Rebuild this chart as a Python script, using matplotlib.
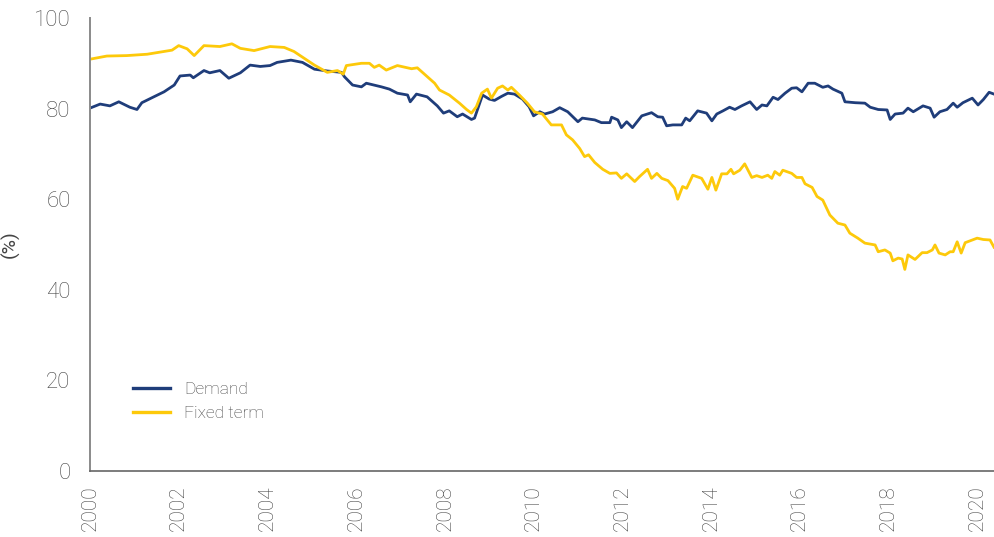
import matplotlib.pyplot as plt

# demand deposits share (%)
demand_years = [2000.0, 2000.23, 2000.45, 2000.65, 2000.9, 2001.06, 2001.17, 2001.44, 2001.67,
                2001.9, 2002.03, 2002.26, 2002.33, 2002.57, 2002.7, 2002.93, 2003.13, 2003.39,
                2003.61, 2003.84, 2004.06, 2004.22, 2004.53, 2004.79, 2005.06, 2005.35, 2005.67,
                2005.74, 2005.92, 2006.12, 2006.23, 2006.57, 2006.75, 2006.93, 2007.16, 2007.22,
                2007.36, 2007.6, 2007.83, 2007.97, 2008.1, 2008.28, 2008.4, 2008.6, 2008.67,
                2008.85, 2009.0, 2009.12, 2009.28, 2009.42, 2009.57, 2009.75, 2009.9, 2010.0,
                2010.14, 2010.25, 2010.43, 2010.59, 2010.77, 2011.0, 2011.1, 2011.38, 2011.53,
                2011.72, 2011.76, 2011.9, 2011.98, 2012.1, 2012.23, 2012.44, 2012.66, 2012.8,
                2012.91, 2013.0, 2013.14, 2013.34, 2013.43, 2013.52, 2013.7, 2013.9, 2014.02,
                2014.13, 2014.27, 2014.42, 2014.54, 2014.69, 2014.88, 2015.03, 2015.15, 2015.26,
                2015.4, 2015.51, 2015.67, 2015.82, 2015.93, 2016.05, 2016.19, 2016.34, 2016.52,
                2016.64, 2016.75, 2016.95, 2017.02, 2017.25, 2017.47, 2017.59, 2017.77, 2017.97,
                2018.04, 2018.15, 2018.33, 2018.44, 2018.56, 2018.78, 2018.94, 2019.03, 2019.16,
                2019.32, 2019.46, 2019.55, 2019.68, 2019.89, 2020.02, 2020.14, 2020.27, 2020.38]
demand = [80.1, 81.0, 80.6, 81.5, 80.3, 79.8, 81.3, 82.6, 83.7,
          85.2, 87.2, 87.4, 86.8, 88.4, 87.9, 88.4, 86.7, 87.9,
          89.6, 89.3, 89.5, 90.2, 90.7, 90.2, 88.7, 88.3, 88.0,
          87.0, 85.2, 84.8, 85.6, 84.8, 84.3, 83.4, 83.0, 81.5,
          83.2, 82.6, 80.6, 79.0, 79.5, 78.2, 78.8, 77.6, 77.9,
          83.0, 82.1, 81.8, 82.7, 83.4, 83.2, 82.1, 80.4, 78.4,
          79.3, 78.8, 79.3, 80.2, 79.3, 77.1, 77.9, 77.5, 76.9,
          76.9, 78.1, 77.5, 75.8, 77.1, 75.8, 78.4, 79.1, 78.2,
          78.1, 76.2, 76.4, 76.4, 77.9, 77.3, 79.5, 79.0, 77.3,
          78.8, 79.5, 80.3, 79.8, 80.6, 81.5, 79.8, 80.8, 80.6,
          82.5, 82.0, 83.4, 84.5, 84.6, 83.7, 85.6, 85.6, 84.7,
          85.0, 84.3, 83.4, 81.5, 81.3, 81.2, 80.3, 79.8, 79.7,
          77.6, 78.8, 79.0, 80.1, 79.3, 80.6, 80.1, 78.1, 79.3,
          79.8, 81.2, 80.3, 81.3, 82.3, 80.8, 82.0, 83.6, 83.2]

fixed_years = [2000.0, 2000.38, 2000.83, 2001.29, 2001.67, 2001.85, 2002.0, 2002.19, 2002.35,
               2002.57, 2002.93, 2003.2, 2003.39, 2003.7, 2004.06, 2004.38, 2004.6, 2004.83,
               2005.06, 2005.35, 2005.58, 2005.71, 2005.78, 2006.12, 2006.3, 2006.41, 2006.52,
               2006.68, 2006.93, 2007.25, 2007.38, 2007.54, 2007.77, 2007.88, 2008.1, 2008.33,
               2008.49, 2008.6, 2008.71, 2008.83, 2008.96, 2009.05, 2009.19, 2009.3, 2009.42,
               2009.5, 2009.68, 2009.86, 2010.02, 2010.2, 2010.4, 2010.63, 2010.74, 2010.88,
               2011.04, 2011.15, 2011.24, 2011.38, 2011.56, 2011.72, 2011.87, 2011.98, 2012.1,
               2012.28, 2012.39, 2012.57, 2012.66, 2012.78, 2012.89, 2013.03, 2013.18, 2013.25,
               2013.36, 2013.45, 2013.59, 2013.79, 2013.93, 2014.02, 2014.11, 2014.24, 2014.36,
               2014.45, 2014.51, 2014.65, 2014.76, 2014.92, 2015.03, 2015.15, 2015.28, 2015.37,
               2015.44, 2015.55, 2015.62, 2015.82, 2015.93, 2016.05, 2016.12, 2016.28, 2016.39,
               2016.52, 2016.68, 2016.86, 2017.02, 2017.13, 2017.31, 2017.47, 2017.7, 2017.77,
               2017.92, 2018.04, 2018.1, 2018.22, 2018.31, 2018.37, 2018.44, 2018.6, 2018.76,
               2018.87, 2018.99, 2019.05, 2019.14, 2019.28, 2019.39, 2019.46, 2019.55, 2019.64,
               2019.73, 2019.84, 2020.0, 2020.14, 2020.29, 2020.38]
fixed = [90.9, 91.6, 91.7, 92.0, 92.6, 92.9, 93.9, 93.2, 91.7,
         93.9, 93.7, 94.3, 93.3, 92.8, 93.7, 93.5, 92.6, 91.1,
         89.6, 88.0, 88.4, 87.6, 89.5, 90.0, 90.0, 89.1, 89.6,
         88.5, 89.5, 88.8, 89.0, 87.6, 85.6, 84.1, 83.0, 81.2,
         79.8, 79.0, 80.4, 83.4, 84.3, 82.3, 84.5, 85.0, 84.1,
         84.7, 83.0, 81.2, 79.3, 78.8, 76.4, 76.4, 74.2, 73.1,
         71.2, 69.4, 69.8, 68.1, 66.6, 65.7, 65.8, 64.6, 65.6,
         63.9, 65.0, 66.6, 64.6, 65.7, 64.6, 64.1, 62.4, 60.0,
         62.8, 62.4, 65.3, 64.6, 62.2, 64.8, 62.0, 65.6, 65.6,
         66.6, 65.6, 66.4, 67.8, 64.8, 65.2, 64.8, 65.3, 64.6,
         66.1, 65.3, 66.4, 65.7, 64.8, 64.8, 63.4, 62.6, 60.6,
         59.8, 56.5, 54.7, 54.3, 52.5, 51.4, 50.3, 49.9, 48.4,
         48.8, 48.1, 46.4, 47.0, 46.8, 44.5, 47.7, 46.7, 48.2,
         48.2, 48.8, 49.9, 48.1, 47.7, 48.4, 48.4, 50.6, 48.1,
         50.4, 50.8, 51.4, 51.1, 51.0, 49.4]

year_ticks = list(range(2000, 2021, 2))
pct_ticks = [0, 20, 40, 60, 80, 100]

plt.rcParams['font.family'] = ['Roboto', 'DejaVu Sans']
plt.rcParams['font.weight'] = 'light'

fig = plt.figure(figsize=(9.94, 5.37), dpi=100)
ax = fig.add_axes([0.0905, 0.1229, 0.9095, 0.8436])

ax.plot(demand_years, demand, color='#1f3d7a', lw=2.0, label='Demand')
ax.plot(fixed_years, fixed, color='#fdc90a', lw=2.0, label='Fixed term')

ax.set_xlim(2000, 2020.38)
ax.set_ylim(0, 100)
ax.set_xticks(year_ticks)
ax.set_xticklabels([str(y) for y in year_ticks], rotation=90)
ax.set_yticks(pct_ticks)
ax.tick_params(length=0, labelsize=16, labelcolor='#444444')
ax.tick_params(axis='y', pad=14)
ax.tick_params(axis='x', pad=10, labelsize=15)
ax.set_ylabel('(%)', fontsize=14, color='#444444')
ax.yaxis.set_label_coords(-0.078, 0.5)

for s in ['top', 'right']:
    ax.spines[s].set_visible(False)
ax.spines['left'].set_color('#8a8a8a')
ax.spines['left'].set_linewidth(1.4)
ax.spines['bottom'].set_color('#666666')
ax.spines['bottom'].set_linewidth(1.2)

leg = ax.legend(loc='lower left', bbox_to_anchor=(0.03, 0.075), frameon=False,
                fontsize=12.5, handlelength=2.15, labelspacing=0.55)
for line in leg.get_lines():
    line.set_linewidth(2.4)
for t in leg.get_texts():
    t.set_color('#444444')

fig.savefig('out.png', dpi=100)
